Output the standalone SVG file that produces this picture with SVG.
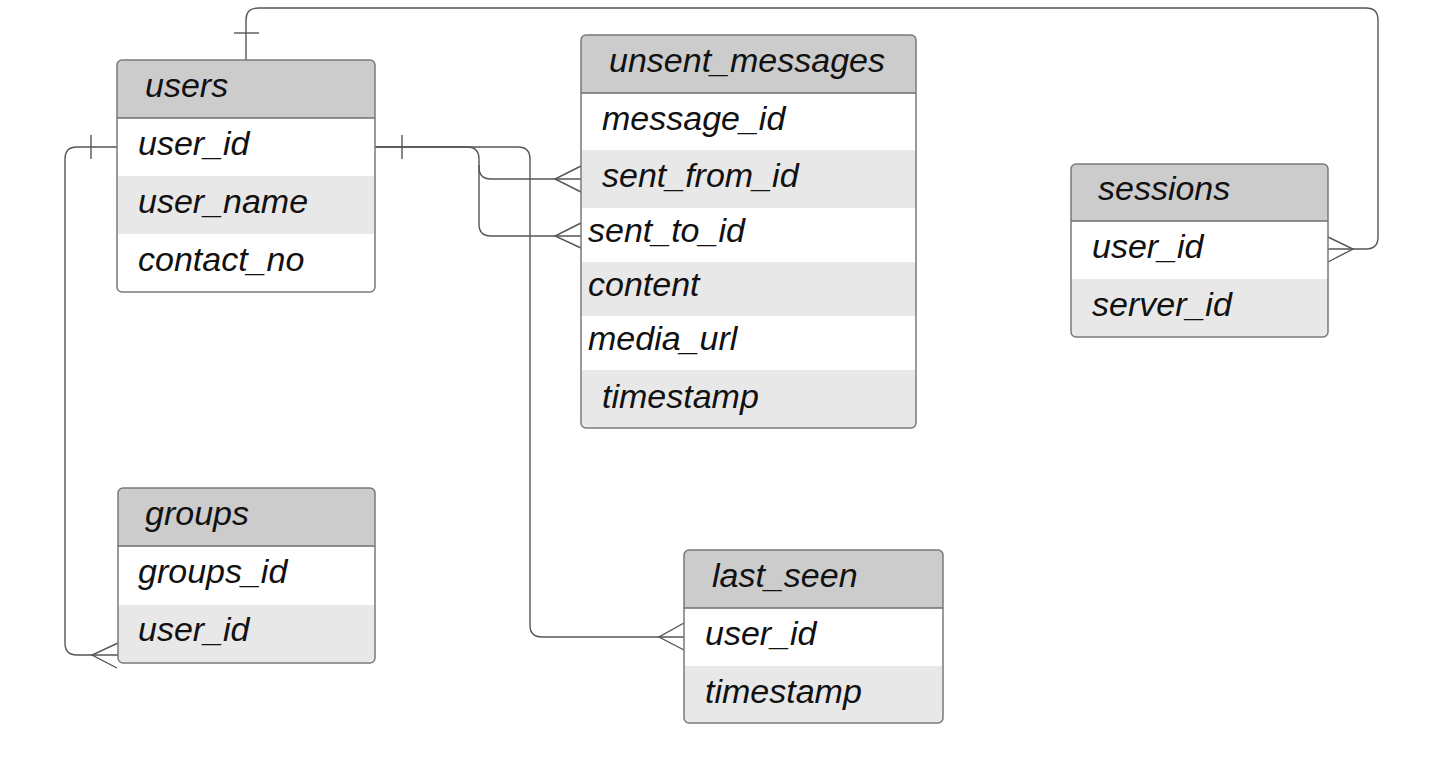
<svg xmlns="http://www.w3.org/2000/svg" width="1438" height="768" viewBox="0 0 1438 768">
<style>
.box{fill:#fff;stroke:none}
.hdr{fill:#cccccc}
.alt{fill:#e8e8e8}
.frame{fill:none;stroke:#7a7a7a;stroke-width:1.5}
.div{stroke:#6e6e6e;stroke-width:1.5}
.t{font-family:"Liberation Sans",Arial,sans-serif;font-style:italic;font-size:34px;fill:#111}
.c{fill:none;stroke:#555;stroke-width:1.4}
</style>
<rect width="1438" height="768" fill="#fff"/>
<g id="connectors">
  <!-- users -> sessions -->
  <path class="c" d="M246,60 V20 Q246,8 258,8 H1366 Q1378,8 1378,20 V237 Q1378,249 1366,249 H1328"/>
  <path class="c" d="M234,33 H259"/>
  <path class="c" d="M1328,237 L1353,249 L1328,262"/>
  <!-- users -> groups -->
  <path class="c" d="M117,147 H77 Q65,147 65,159 V643 Q65,655 77,655 H118"/>
  <path class="c" d="M91,135 V159"/>
  <path class="c" d="M118,643 L92,655 L117,668"/>
  <!-- users -> unsent_messages -->
  <path class="c" d="M375,147 H467 Q479,147 479,159 V167 Q479,179 491,179 H581"/>
  <path class="c" d="M479,165 V224 Q479,236 491,236 H581"/>
  <path class="c" d="M402,135 V159"/>
  <path class="c" d="M581,166 L555,179 L581,192"/>
  <path class="c" d="M581,223 L555,236 L581,248"/>
  <!-- users -> last_seen -->
  <path class="c" d="M375,147 H518 Q530,147 530,159 V625 Q530,637 542,637 H684"/>
  <path class="c" d="M684,623 L659,637 L684,650"/>
</g>
<g id="users">
  <rect class="box" x="117" y="60" width="258" height="232" rx="5"/>
  <path class="hdr" d="M117,118 V65 Q117,60 122,60 H370 Q375,60 375,65 V118 Z"/>
  <rect class="alt" x="117" y="176" width="258" height="58"/>
  <line class="div" x1="117" y1="118" x2="375" y2="118"/>
  <rect class="frame" x="117" y="60" width="258" height="232" rx="5"/>
  <text class="t" x="145" y="97">users</text>
  <text class="t" x="138" y="155">user_id</text>
  <text class="t" x="138" y="213">user_name</text>
  <text class="t" x="138" y="271">contact_no</text>
</g>
<g id="unsent_messages">
  <rect class="box" x="581" y="35" width="335" height="393" rx="5"/>
  <path class="hdr" d="M581,93 V40 Q581,35 586,35 H911 Q916,35 916,40 V93 Z"/>
  <rect class="alt" x="581" y="150" width="335" height="58"/>
  <rect class="alt" x="581" y="262" width="335" height="54"/>
  <path class="alt" d="M581,370 H916 V423 Q916,428 911,428 H586 Q581,428 581,423 Z"/>
  <line class="div" x1="581" y1="93" x2="916" y2="93"/>
  <rect class="frame" x="581" y="35" width="335" height="393" rx="5"/>
  <text class="t" x="609" y="72">unsent_messages</text>
  <text class="t" x="602" y="130">message_id</text>
  <text class="t" x="602" y="187">sent_from_id</text>
  <text class="t" x="588" y="242">sent_to_id</text>
  <text class="t" x="588" y="296">content</text>
  <text class="t" x="588" y="350">media_url</text>
  <text class="t" x="602" y="408">timestamp</text>
</g>
<g id="sessions">
  <rect class="box" x="1071" y="164" width="257" height="173" rx="5"/>
  <path class="hdr" d="M1071,221 V169 Q1071,164 1076,164 H1323 Q1328,164 1328,169 V221 Z"/>
  <path class="alt" d="M1071,279 H1328 V332 Q1328,337 1323,337 H1076 Q1071,337 1071,332 Z"/>
  <line class="div" x1="1071" y1="221" x2="1328" y2="221"/>
  <rect class="frame" x="1071" y="164" width="257" height="173" rx="5"/>
  <text class="t" x="1098" y="200">sessions</text>
  <text class="t" x="1092" y="258">user_id</text>
  <text class="t" x="1092" y="316">server_id</text>
</g>
<g id="groups">
  <rect class="box" x="118" y="488" width="257" height="175" rx="5"/>
  <path class="hdr" d="M118,546 V493 Q118,488 123,488 H370 Q375,488 375,493 V546 Z"/>
  <path class="alt" d="M118,605 H375 V658 Q375,663 370,663 H123 Q118,663 118,658 Z"/>
  <line class="div" x1="118" y1="546" x2="375" y2="546"/>
  <rect class="frame" x="118" y="488" width="257" height="175" rx="5"/>
  <text class="t" x="145" y="525">groups</text>
  <text class="t" x="138" y="583">groups_id</text>
  <text class="t" x="138" y="641">user_id</text>
</g>
<g id="last_seen">
  <rect class="box" x="684" y="550" width="259" height="173" rx="5"/>
  <path class="hdr" d="M684,608 V555 Q684,550 689,550 H938 Q943,550 943,555 V608 Z"/>
  <path class="alt" d="M684,666 H943 V718 Q943,723 938,723 H689 Q684,723 684,718 Z"/>
  <line class="div" x1="684" y1="608" x2="943" y2="608"/>
  <rect class="frame" x="684" y="550" width="259" height="173" rx="5"/>
  <text class="t" x="712" y="587">last_seen</text>
  <text class="t" x="705" y="645">user_id</text>
  <text class="t" x="705" y="703">timestamp</text>
</g>
</svg>
